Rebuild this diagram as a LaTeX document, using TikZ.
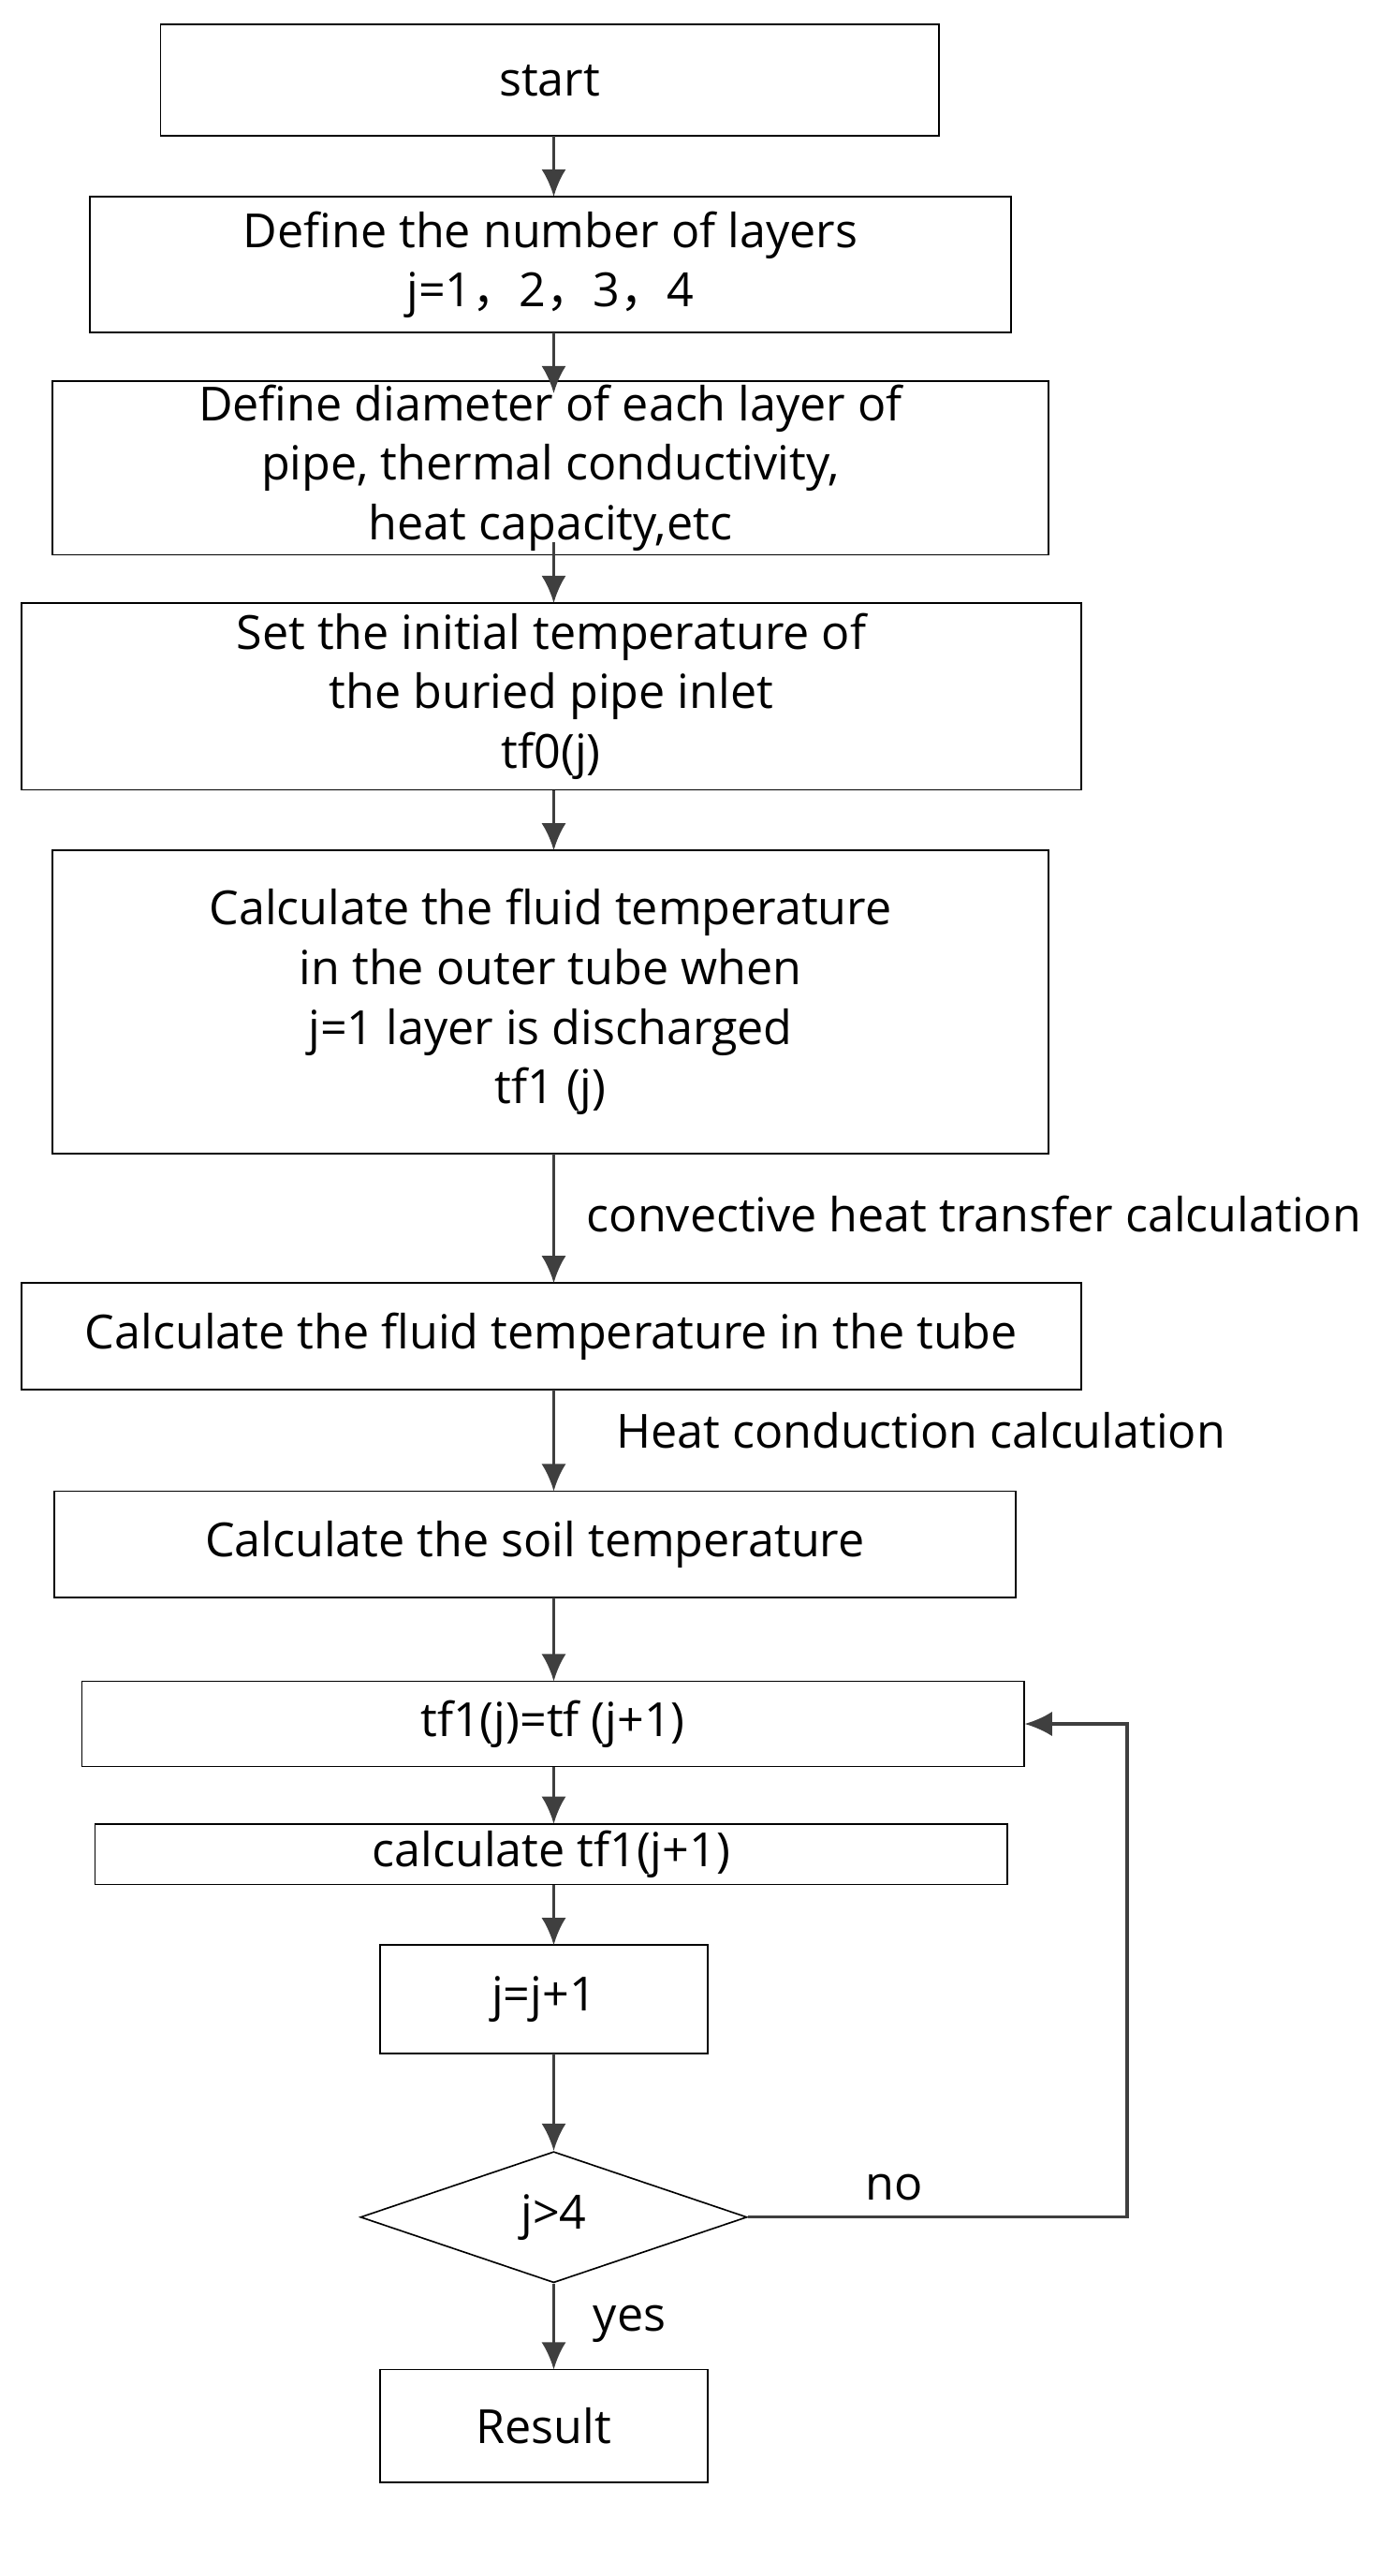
\documentclass[tikz,border=0pt]{standalone}
\usepackage{fontspec}
\setmainfont{Open Sans}
\newfontfamily\cjkfont{Noto Sans CJK SC}
\definecolor{flowLine}{HTML}{3F3F3F}
\usetikzlibrary{arrows.meta, positioning, shapes.geometric}
\tikzset{
    step box/.style={rectangle, draw=black, thick, fill=white, align=center, inner sep=2pt, font=\fontsize{24.5}{31}\selectfont},
    test node/.style={diamond, draw=black, thick, aspect=2.95, inner sep=0pt, minimum width=7.08cm, minimum height=2.4cm, font=\fontsize{24.5}{31}\selectfont},
    arrow style/.style={-{Latex[length=5mm, width=4.5mm]}, line width=1.6pt, flowLine},
    side label/.style={font=\fontsize{24.5}{31}\selectfont, anchor=west},
}
\newcommand{\wcomma}{{\cjkfont ，}}
\begin{document}
\begin{tikzpicture}[x=0.03cm, y=-0.03cm]
    \useasboundingbox (0,0) rectangle (850,1572);
    % steps of the flow
    \node[step box, minimum width=14.25cm, minimum height=2.04cm] (start) at (335.5,49) {start};
    \node[step box, minimum width=16.86cm, minimum height=2.49cm] (layers) at (336,161.5) {Define the number of layers\\j=1\wcomma2\wcomma3\wcomma4};
    \node[step box, minimum width=18.24cm, minimum height=2.73cm] (props) at (336,285.5) {Define diameter of each layer of\\pipe, thermal conductivity,\\heat capacity,etc};
    \node[step box, minimum width=19.41cm, minimum height=3.42cm] (inlet) at (336.5,425) {Set the initial temperature of\\the buried pipe inlet\\tf0(j)};
    \node[step box, minimum width=18.24cm, minimum height=5.55cm] (outer) at (336,611.5) {Calculate the fluid temperature\\in the outer tube when\\j=1 layer is discharged\\tf1 (j)};
    \node[step box, minimum width=19.41cm, minimum height=1.95cm] (tube) at (336.5,815.5) {Calculate the fluid temperature in the tube};
    \node[step box, minimum width=17.61cm, minimum height=1.95cm] (soil) at (326.5,942.5) {Calculate the soil temperature};
    \node[step box, minimum width=17.25cm, minimum height=1.56cm] (update) at (337.5,1052) {tf1(j)=tf (j+1)};
    \node[step box, minimum width=16.71cm, minimum height=1.11cm] (next) at (336.5,1131.5) {calculate tf1(j+1)};
    \node[step box, minimum width=6cm, minimum height=1.98cm] (incr) at (332,1220) {j=j+1};
    \node[test node] (check) at (338,1353) {j>4};
    \node[step box, minimum width=6cm, minimum height=2.07cm] (result) at (332,1480.5) {Result};
    % connectors
    \draw[arrow style] (338,83) -- (338,120);
    \draw[arrow style] (338,203) -- (338,240);
    \draw[arrow style] (338,331) -- (338,368);
    \draw[arrow style] (338,482) -- (338,519);
    \draw[arrow style] (338,704) -- (338,783);
    \draw[arrow style] (338,848) -- (338,910);
    \draw[arrow style] (338,975) -- (338,1026);
    \draw[arrow style] (338,1078) -- (338,1113);
    \draw[arrow style] (338,1150) -- (338,1187);
    \draw[arrow style] (338,1253) -- (check.north);
    \draw[arrow style] (check.south) -- (338,1446);
    \draw[arrow style] (check.east) -- (688,1353) -- (688,1052) -- (update.east);
    % labels
    \node[side label] at (354,741) {convective heat transfer calculation};
    \node[side label] at (372,873) {Heat conduction calculation};
    \node[side label] at (524,1335) {no};
    \node[side label] at (358,1418) {yes};
\end{tikzpicture}
\end{document}
